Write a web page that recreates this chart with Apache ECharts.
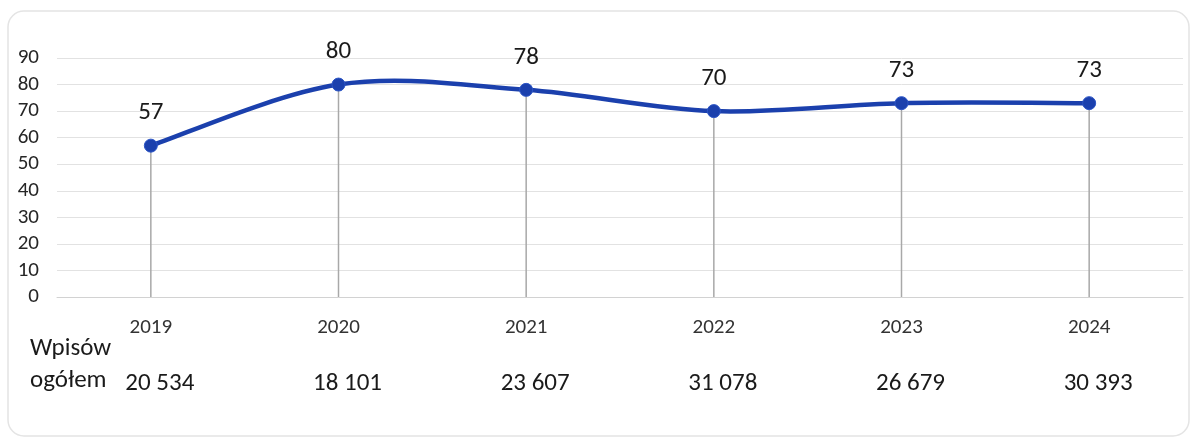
<!DOCTYPE html>
<html>
<head>
<meta charset="utf-8">
<script src="https://cdn.jsdelivr.net/npm/echarts@6/dist/echarts.min.js"></script>
<style>
  html, body { margin: 0; padding: 0; background: #ffffff; }
  #chart { width: 1197px; height: 444px; }
</style>
</head>
<body>
<div id="chart"></div>
<script>
// Academic years and the value plotted for each
const years = ['2019', '2020', '2021', '2022', '2023', '2024'];
const values = [57, 80, 78, 70, 73, 73];
// Total enrolments printed under each year
const enrolments = ['20 534', '18 101', '23 607', '31 078', '26 679', '30 393'];
const rowTitle = ['Wpisów', 'ogółem'];
const yTicks = { min: 0, max: 90, interval: 10 };

const font = 'Carlito, "Liberation Sans", "Open Sans", sans-serif';
const lineColor = '#1b40ad';
const chart = echarts.init(document.getElementById('chart'));

// Smoothed curve through the points (Catmull-Rom converted to cubic Bezier),
// drawn in pixel space from the axis coordinates.
function renderCurve(params, api) {
  const pts = values.map(function (v, i) { return api.coord([i, v]); });
  const n = pts.length;
  let d = 'M' + pts[0][0] + ',' + pts[0][1];
  for (let i = 0; i < n - 1; i++) {
    const p0 = pts[Math.max(i - 1, 0)];
    const p1 = pts[i];
    const p2 = pts[i + 1];
    const p3 = pts[Math.min(i + 2, n - 1)];
    const c1x = p1[0] + (p2[0] - p0[0]) / 6;
    const c1y = p1[1] + (p2[1] - p0[1]) / 6;
    const c2x = p2[0] - (p3[0] - p1[0]) / 6;
    const c2y = p2[1] - (p3[1] - p1[1]) / 6;
    d += ' C' + c1x + ',' + c1y + ' ' + c2x + ',' + c2y + ' ' + p2[0] + ',' + p2[1];
  }
  return {
    type: 'path',
    shape: { pathData: d },
    style: { fill: 'none', stroke: lineColor, lineWidth: 4.5, lineJoin: 'round', lineCap: 'round' }
  };
}

chart.setOption({
  backgroundColor: '#ffffff',
  animation: false,
  grid: { left: 57, right: 14, top: 58, bottom: 147 },
  graphic: [
    {
      type: 'rect',
      shape: { x: 8, y: 11, width: 1181, height: 425, r: 16 },
      style: { fill: 'none', stroke: '#e4e4e4', lineWidth: 1.5 },
      silent: true,
      z: -1
    },
    {
      type: 'text',
      left: 30,
      top: 333,
      style: {
        text: rowTitle.join('\n'),
        font: '25px ' + font,
        fill: '#1a1a1a',
        lineHeight: 32
      }
    }
  ],
  xAxis: [
    {
      type: 'category',
      data: years,
      boundaryGap: true,
      axisLine: { lineStyle: { color: '#d2d2d2', width: 1 } },
      axisTick: { show: false },
      axisLabel: { margin: 20, fontSize: 21, fontFamily: font, color: '#333333' }
    },
    {
      type: 'category',
      data: enrolments,
      position: 'bottom',
      offset: 64,
      boundaryGap: true,
      axisLine: { show: false },
      axisTick: { show: false },
      axisLabel: {
        margin: 10,
        fontSize: 25,
        fontFamily: font,
        color: '#1a1a1a',
        padding: [0, 0, 0, 18]
      }
    }
  ],
  yAxis: {
    type: 'value',
    min: yTicks.min,
    max: yTicks.max,
    interval: yTicks.interval,
    axisLine: { show: false },
    axisTick: { show: false },
    axisLabel: { fontSize: 21, fontFamily: font, color: '#262626', margin: 18 },
    splitLine: { lineStyle: { color: '#e2e2e2', width: 1 } }
  },
  series: [
    {
      // drop lines from each point down to the axis
      type: 'bar',
      data: values,
      barWidth: 1.5,
      itemStyle: { color: '#a8a8a8' },
      silent: true,
      z: 1
    },
    {
      type: 'custom',
      data: [0],
      renderItem: renderCurve,
      silent: true,
      z: 2
    },
    {
      type: 'line',
      data: values,
      symbol: 'circle',
      symbolSize: 13,
      lineStyle: { opacity: 0 },
      itemStyle: { color: lineColor, borderColor: '#2c55c6', borderWidth: 1 },
      label: {
        show: true,
        position: 'top',
        distance: 13,
        fontSize: 25,
        fontFamily: font,
        color: '#1a1a1a'
      },
      z: 3
    }
  ]
});
</script>
</body>
</html>
